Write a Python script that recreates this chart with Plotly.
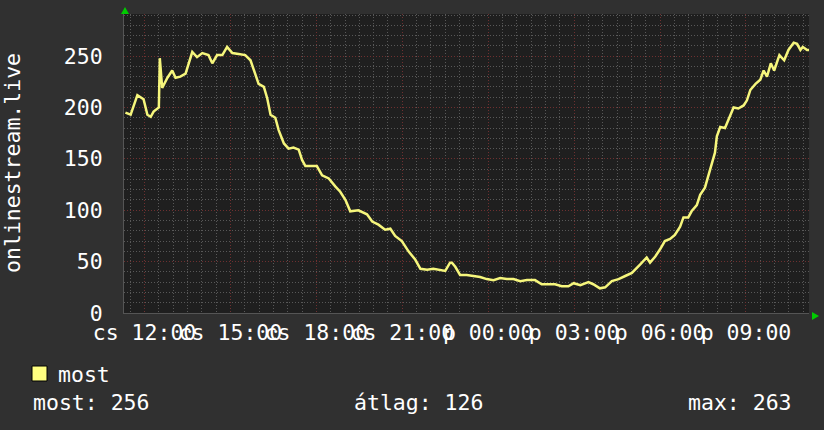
import pandas as pd
import plotly.graph_objects as go

# ---- data (minutes after Thursday 12:00, values) ----
minutes = [-40, -29, -15, -8, -2, 6, 13, 19, 27, 30, 32, 37, 48, 58, 65, 75, 86, 93, 100, 110,
           121, 134, 142, 152, 163, 173, 184, 197, 211, 222, 232, 239, 250, 257, 264, 274, 281,
           292, 302, 312, 323, 330, 337, 347, 361, 372, 386, 400, 410, 421, 431, 448, 466, 477,
           490, 504, 515, 525, 539, 553, 567, 578, 592, 605, 619, 630, 640, 644, 651, 661, 675,
           689, 703, 717, 731, 745, 759, 773, 787, 801, 818, 832, 846, 860, 874, 888, 899, 913,
           930, 940, 954, 965, 979, 993, 1007, 1021, 1038, 1052, 1059, 1070, 1080, 1090, 1101,
           1111, 1122, 1129, 1139, 1146, 1157, 1164, 1174, 1181, 1188, 1195, 1199, 1206, 1216,
           1227, 1234, 1244, 1255, 1262, 1269, 1280, 1290, 1297, 1304, 1312, 1319, 1330, 1340,
           1349, 1360, 1367, 1374, 1379, 1388, 1392]
values = [195, 193, 212, 210, 208, 193, 191, 196, 199, 200, 248, 219, 229, 236, 229, 230, 233, 244,
          254, 249, 253, 251, 243, 251, 251, 259, 253, 252, 251, 246, 232, 223, 220, 209, 193, 190,
          178, 165, 160, 161, 159, 149, 143, 143, 143, 134, 131, 123, 118, 110, 99, 100, 96, 89,
          86, 81, 82, 75, 70, 60, 52, 43, 42, 43, 42, 41, 49, 49, 45, 37, 37, 36, 35, 33, 32, 34,
          33, 33, 31, 32, 32, 28, 28, 28, 26, 26, 29, 27, 30, 28, 24, 25, 31, 33, 36, 39, 47, 54,
          49, 55, 62, 70, 72, 76, 84, 93, 93, 99, 105, 115, 122, 133, 143, 156, 172, 181, 180, 193,
          200, 199, 202, 207, 217, 223, 227, 236, 230, 243, 236, 251, 246, 256, 263, 262, 256, 259,
          256, 256]
tick_hours = [0, 3, 6, 9, 12, 15, 18, 21]
tick_labels = ["cs 12:00", "cs 15:00", "cs 18:00", "cs 21:00",
               "p 00:00", "p 03:00", "p 06:00", "p 09:00"]
y_ticks = [0, 50, 100, 150, 200, 250]
series_name = "most"
stat_labels = ["most: 256", "átlag: 126", "max: 263"]
axis_title = "onlinestream.live"

base = pd.Timestamp("2024-01-04 12:00")
xs = [base + pd.Timedelta(minutes=m) for m in minutes]
tickvals = [base + pd.Timedelta(hours=h) for h in tick_hours]

W, H = 824, 430
L, R, T, B = 124, 809, 14, 313
FONT = "DejaVu Sans Mono"
FS = 21.5
BG = "#303030"
PLOT_BG = "#1f1f1f"
LINE = "#f6f67c"

def px(x):
    return (x - L) / (R - L)

def py(y):
    return (B - y) / (B - T)

fig = go.Figure()
fig.add_trace(go.Scatter(x=xs, y=values, mode="lines", name=series_name,
                         line=dict(color=LINE, width=2.5), showlegend=False,
                         hoverinfo="skip"))

fig.update_layout(
    width=W, height=H,
    margin=dict(l=L, r=W - R, t=T, b=H - B, pad=0),
    paper_bgcolor=BG, plot_bgcolor=PLOT_BG,
    font=dict(family=FONT, size=FS, color="white"),
    xaxis=dict(
        range=[base + pd.Timedelta(minutes=-43), base + pd.Timedelta(minutes=1392)],
        tickmode="array", tickvals=tickvals, ticktext=tick_labels, tickangle=0,
        showgrid=True, gridcolor="#6e3030", griddash="1px,2px", gridwidth=1,
        minor=dict(dtick=30 * 60 * 1000, tick0=base, showgrid=True,
                   gridcolor="#585858", griddash="1px,2px", gridwidth=1),
        ticks="", showline=True, linecolor="#555555", zeroline=False,
        tickfont=dict(family=FONT, size=FS, color="white"),
        ticklabelstandoff=0, fixedrange=True,
    ),
    yaxis=dict(
        range=[0, 291], tickmode="array", tickvals=y_ticks,
        showgrid=True, gridcolor="#6e3030", griddash="1px,2px", gridwidth=1,
        minor=dict(dtick=10, tick0=0, showgrid=True,
                   gridcolor="#585858", griddash="1px,2px", gridwidth=1),
        ticks="", showline=True, linecolor="#555555", zeroline=False,
        tickfont=dict(family=FONT, size=FS, color="white"),
        ticklabelstandoff=16, fixedrange=True,
    ),
)

# y-axis title
fig.add_annotation(text=axis_title, xref="paper", yref="paper", x=px(12), y=py(163),
                   textangle=-90, showarrow=False, xanchor="center", yanchor="middle",
                   font=dict(family=FONT, size=FS, color="white"))

# legend swatch & label
fig.add_shape(type="rect", xref="paper", yref="paper",
              x0=px(32), x1=px(47), y0=py(366), y1=py(381),
              fillcolor="#ffff80", line=dict(color="black", width=1))
fig.add_annotation(text=series_name, xref="paper", yref="paper", x=px(56), y=py(374),
                   showarrow=False, xanchor="left", yanchor="middle",
                   font=dict(family=FONT, size=FS, color="white"))
for lbl, xp in zip(stat_labels, [31, 352, 686]):
    fig.add_annotation(text=lbl, xref="paper", yref="paper", x=px(xp), y=py(402),
                       showarrow=False, xanchor="left", yanchor="middle",
                       font=dict(family=FONT, size=FS, color="white"))

# axis arrows (green)
fig.add_shape(type="path", xref="paper", yref="paper",
              path=f"M {px(121)} {py(14)} L {px(129)} {py(14)} L {px(125)} {py(7)} Z",
              fillcolor="#00cc00", line=dict(width=0))
fig.add_shape(type="path", xref="paper", yref="paper",
              path=f"M {px(812)} {py(312)} L {px(812)} {py(320)} L {px(819)} {py(316)} Z",
              fillcolor="#00cc00", line=dict(width=0))

fig.write_html("out.html", config={"displayModeBar": False},
               post_script="document.body.style.margin='0';")
